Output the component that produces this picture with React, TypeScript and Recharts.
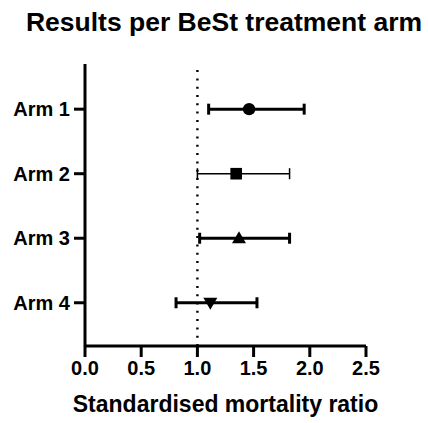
import { ScatterChart, Scatter, XAxis, YAxis, ErrorBar, ReferenceLine } from "recharts";

const arms = ["Arm 1", "Arm 2", "Arm 3", "Arm 4"];
const smr = [1.46, 1.345, 1.37, 1.115];
const ciLow = [1.1, 1.0, 1.02, 0.81];
const ciHigh = [1.95, 1.82, 1.82, 1.53];
const xTicks = [0, 0.5, 1, 1.5, 2, 2.5];
const barWidths = [3, 1.5, 3, 3];

const font = "'Liberation Sans', Arial, sans-serif";

const Circle = (p: any) => <circle cx={p.cx} cy={p.cy} r={6.2} fill="#000" />;
const Square = (p: any) => <rect x={p.cx - 5.8} y={p.cy - 5.8} width={11.6} height={11.6} fill="#000" />;
const TriUp = (p: any) => (
  <polygon points={`${p.cx},${p.cy - 7} ${p.cx - 7},${p.cy + 5} ${p.cx + 7},${p.cy + 5}`} fill="#000" />
);
const TriDown = (p: any) => (
  <polygon points={`${p.cx},${p.cy + 7} ${p.cx - 7},${p.cy - 5} ${p.cx + 7},${p.cy - 5}`} fill="#000" />
);
const shapes = [Circle, Square, TriUp, TriDown];

export default function App() {
  return (
    <div style={{ position: "absolute", left: 0, top: 0, width: 428, height: 423, background: "#fff" }}>
      <div
        style={{
          position: "absolute",
          left: 0,
          top: 6.5,
          width: 448,
          textAlign: "center",
          fontFamily: font,
          fontWeight: "bold",
          fontSize: 26.5,
          lineHeight: "30px",
          color: "#000",
          whiteSpace: "nowrap",
        }}
      >
        Results per BeSt treatment arm
      </div>
      <ScatterChart width={428} height={423} margin={{ top: 64, right: 62, bottom: 0, left: 0 }}>
        <XAxis
          type="number"
          dataKey="x"
          domain={[0, 2.5]}
          ticks={xTicks}
          tickFormatter={(v: number) => v.toFixed(1)}
          height={77}
          tickSize={11}
          tickMargin={4}
          axisLine={{ stroke: "#000", strokeWidth: 3 }}
          tickLine={{ stroke: "#000", strokeWidth: 3 }}
          tick={{ fill: "#000", fontSize: 20, fontWeight: "bold", fontFamily: font }}
          label={{
            value: "Standardised mortality ratio",
            position: "insideBottom",
            offset: 11,
            fill: "#000",
            fontSize: 23,
            fontWeight: "bold",
            fontFamily: font,
          }}
        />
        <YAxis
          type="number"
          dataKey="y"
          domain={[0.3, 4.67]}
          reversed
          ticks={[1, 2, 3, 4]}
          tickFormatter={(v: number) => arms[v - 1]}
          width={85}
          tickSize={11}
          tickMargin={4}
          axisLine={{ stroke: "#000", strokeWidth: 3 }}
          tickLine={{ stroke: "#000", strokeWidth: 3 }}
          tick={{ fill: "#000", fontSize: 20, fontWeight: "bold", fontFamily: font }}
        />
        <ReferenceLine x={1} stroke="#000" strokeWidth={2.4} strokeDasharray="2 6.3" />
        {arms.map((a, i) => (
          <Scatter
            key={a}
            name={a}
            data={[{ x: smr[i], y: i + 1, err: [smr[i] - ciLow[i], ciHigh[i] - smr[i]] }]}
            shape={shapes[i]}
            isAnimationActive={false}
          >
            <ErrorBar dataKey="err" direction="x" width={5.5} stroke="#000" strokeWidth={barWidths[i]} />
          </Scatter>
        ))}
      </ScatterChart>
    </div>
  );
}
